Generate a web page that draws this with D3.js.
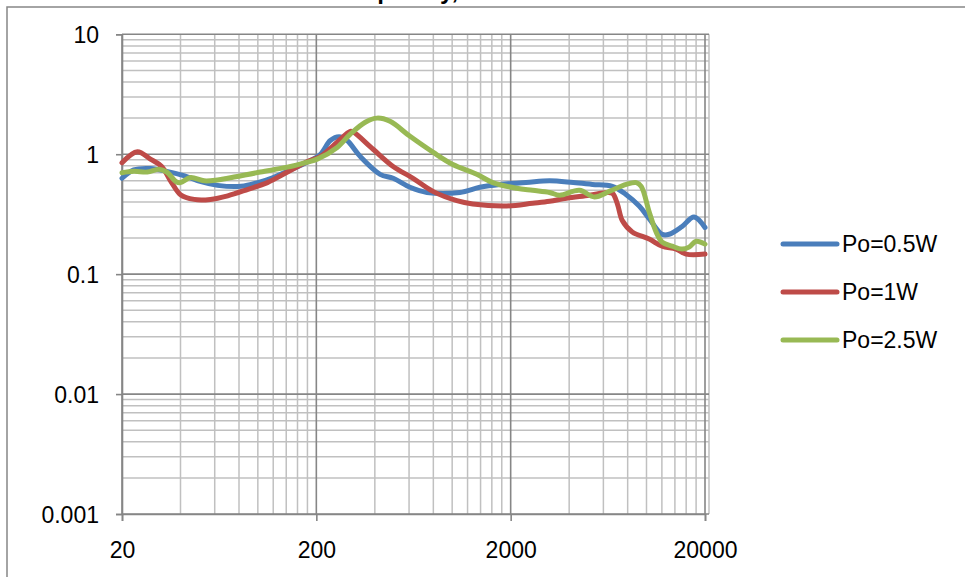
<!DOCTYPE html>
<html>
<head>
<meta charset="utf-8">
<script src="https://cdn.jsdelivr.net/npm/d3@7"></script>
<style>
  body { margin: 0; background: #fff; }
  svg { display: block; }
  text { font-family: "Liberation Sans", Arial, sans-serif; fill: #000; }
</style>
</head>
<body>
<div id="chart"></div>
<script>
var width = 965;
var height = 577;

// ---- data ----
var seriesNames = ["Po=0.5W", "Po=1W", "Po=2.5W"];
var seriesColors = ["#4A7EBB", "#BE4B48", "#98B954"];

var freqHalfW = [20, 23, 28, 34, 42, 51, 62, 82, 100, 120, 147, 180, 210, 236, 262, 288, 336, 426, 497, 607, 742, 1095, 1387, 1757, 2400, 3170, 4200, 5268, 6670, 7869, 9174, 10326, 12034, 13078, 15248, 17560, 20000];
var valsHalfW = [0.63, 0.74, 0.76, 0.72, 0.66, 0.59, 0.55, 0.54, 0.58, 0.64, 0.74, 0.86, 1.0, 1.30, 1.40, 1.30, 0.96, 0.68, 0.63, 0.53, 0.48, 0.48, 0.53, 0.56, 0.58, 0.60, 0.58, 0.56, 0.54, 0.46, 0.37, 0.29, 0.215, 0.215, 0.25, 0.30, 0.245];

var freqOneW = [20, 24, 28, 32, 36, 40, 47, 57, 70, 89, 112, 142, 180, 210, 256, 299, 310, 392, 497, 629, 796, 1057, 1277, 1908, 2594, 3170, 3876, 5084, 6300, 6700, 7100, 7506, 8447, 10326, 12034, 14202, 15981, 20000];
var valsOneW = [0.85, 1.05, 0.91, 0.79, 0.58, 0.46, 0.42, 0.42, 0.45, 0.51, 0.58, 0.71, 0.87, 0.96, 1.26, 1.55, 1.53, 1.10, 0.79, 0.63, 0.49, 0.41, 0.385, 0.37, 0.39, 0.405, 0.43, 0.455, 0.48, 0.47, 0.38, 0.28, 0.225, 0.196, 0.171, 0.162, 0.147, 0.147];

var freqTwoHalfW = [20, 23, 27, 31, 34, 38, 40, 45, 53, 62, 70, 103, 142, 180, 202, 256, 299, 357, 411, 479, 607, 796, 1008, 1339, 1617, 2148, 2594, 3170, 3568, 4518, 5394, 6438, 7869, 8856, 9394, 10326, 11216, 12034, 13540, 15248, 16560, 17980, 20000];
var valsTwoHalfW = [0.70, 0.72, 0.71, 0.75, 0.71, 0.59, 0.58, 0.64, 0.60, 0.61, 0.63, 0.71, 0.78, 0.86, 0.91, 1.14, 1.47, 1.85, 2.0, 1.88, 1.41, 1.04, 0.82, 0.68, 0.58, 0.52, 0.50, 0.48, 0.455, 0.50, 0.44, 0.49, 0.56, 0.58, 0.54, 0.33, 0.224, 0.185, 0.171, 0.162, 0.168, 0.188, 0.178];

var xTickValues = [20, 200, 2000, 20000];
var yTickValues = [0.001, 0.01, 0.1, 1, 10];
var yTickLabels = ["0.001", "0.01", "0.1", "1", "10"];
var minorSteps = [2, 3, 4, 5, 6, 7, 8, 9];

var allFreqs = [freqHalfW, freqOneW, freqTwoHalfW];
var allVals = [valsHalfW, valsOneW, valsTwoHalfW];

showChart();

function showChart() {
    var left = 122, right = 705, top = 34.3, bottom = 514;

    var xScale = d3.scaleLog()
        .domain([20, 20000])
        .range([left, right]);

    var yScale = d3.scaleLog()
        .domain([0.001, 10])
        .range([bottom, top]);

    var svg = d3.select("#chart").append("svg")
        .attr("width", width)
        .attr("height", height);

    // outer chart frame (only top and left are in view)
    svg.append("path")
        .attr("d", "M7,577 V7 H965")
        .style("fill", "none")
        .style("stroke", "#878787")
        .style("stroke-width", 1.5);

    // title, mostly above the picture like in the original
    svg.append("text")
        .attr("x", 332)
        .attr("y", -1)
        .style("font-size", "24px")
        .style("font-weight", "bold")
        .text("Frequency,");

    // minor grid lines
    var xMinor = [];
    xTickValues.slice(0, 3).forEach(function(d) {
        minorSteps.forEach(function(k) { xMinor.push(d * k); });
    });
    var yMinor = [];
    yTickValues.slice(0, 4).forEach(function(d) {
        minorSteps.forEach(function(k) { yMinor.push(d * k); });
    });

    var grid = svg.append("g");

    grid.selectAll(".xminor")
        .data(xMinor)
        .enter().append("line")
        .attr("x1", function(d) { return xScale(d); })
        .attr("x2", function(d) { return xScale(d); })
        .attr("y1", top)
        .attr("y2", bottom)
        .style("stroke", "#c0c0c0")
        .style("stroke-width", 1.5);

    grid.selectAll(".yminor")
        .data(yMinor)
        .enter().append("line")
        .attr("x1", left)
        .attr("x2", right + 4)
        .attr("y1", function(d) { return yScale(d); })
        .attr("y2", function(d) { return yScale(d); })
        .style("stroke", "#c0c0c0")
        .style("stroke-width", 1.5);

    // plot area right edge
    grid.append("line")
        .attr("x1", right + 4)
        .attr("x2", right + 4)
        .attr("y1", top)
        .attr("y2", bottom)
        .style("stroke", "#c0c0c0")
        .style("stroke-width", 1.5);

    grid.selectAll(".xmajor")
        .data(xTickValues)
        .enter().append("line")
        .attr("x1", function(d) { return xScale(d); })
        .attr("x2", function(d) { return xScale(d); })
        .attr("y1", top)
        .attr("y2", bottom)
        .style("stroke", "#868686")
        .style("stroke-width", 1.6);

    grid.selectAll(".ymajor")
        .data(yTickValues)
        .enter().append("line")
        .attr("x1", left)
        .attr("x2", right + 4)
        .attr("y1", function(d) { return yScale(d); })
        .attr("y2", function(d) { return yScale(d); })
        .style("stroke", "#868686")
        .style("stroke-width", 1.6);

    // axes
    var yAxis = d3.axisLeft(yScale)
        .tickValues(yTickValues)
        .tickFormat(function(d, i) { return yTickLabels[i]; })
        .tickSize(6)
        .tickPadding(17);

    var gy = svg.append("g")
        .attr("transform", "translate(" + left + ",0)")
        .call(yAxis);

    var xAxis = d3.axisBottom(xScale)
        .tickValues(xTickValues)
        .tickFormat(function(d) { return String(d); })
        .tickSize(7)
        .tickPadding(20);

    var gx = svg.append("g")
        .attr("transform", "translate(0," + bottom + ")")
        .call(xAxis);

    [gx, gy].forEach(function(g) {
        g.select(".domain").style("stroke", "#868686").style("stroke-width", 1.6);
        g.selectAll(".tick line").style("stroke", "#868686").style("stroke-width", 1.6);
        g.selectAll(".tick text")
            .style("font-family", "'Liberation Sans', Arial, sans-serif")
            .style("font-size", "23px")
            .style("fill", "#000");
    });
    gy.selectAll(".tick text").attr("dy", "0.36em");
    gx.selectAll(".tick text").attr("dy", "0.72em");

    // series lines
    var line = d3.line()
        .x(function(d) { return xScale(d[0]); })
        .y(function(d) { return yScale(d[1]); })
        .curve(d3.curveCatmullRom.alpha(0.5));

    allFreqs.forEach(function(freqs, s) {
        var pts = freqs.map(function(f, i) { return [f, allVals[s][i]]; });
        svg.append("path")
            .attr("d", line(pts))
            .attr("class", "line")
            .style("fill", "none")
            .style("stroke", seriesColors[s])
            .style("stroke-width", 5)
            .style("stroke-linejoin", "round")
            .style("stroke-linecap", "round");
    });

    // legend
    var legend = svg.selectAll(".legend")
        .data(seriesNames)
        .enter().append("g")
        .attr("class", "legend")
        .attr("transform", function(d, i) { return "translate(783," + (244 + i * 48) + ")"; });

    legend.append("line")
        .attr("x1", 0)
        .attr("x2", 54)
        .style("stroke", function(d, i) { return seriesColors[i]; })
        .style("stroke-width", 5)
        .style("stroke-linecap", "round");

    legend.append("text")
        .attr("x", 59)
        .attr("dy", "0.36em")
        .style("font-size", "23px")
        .text(function(d) { return d; });
}
</script>
</body>
</html>
